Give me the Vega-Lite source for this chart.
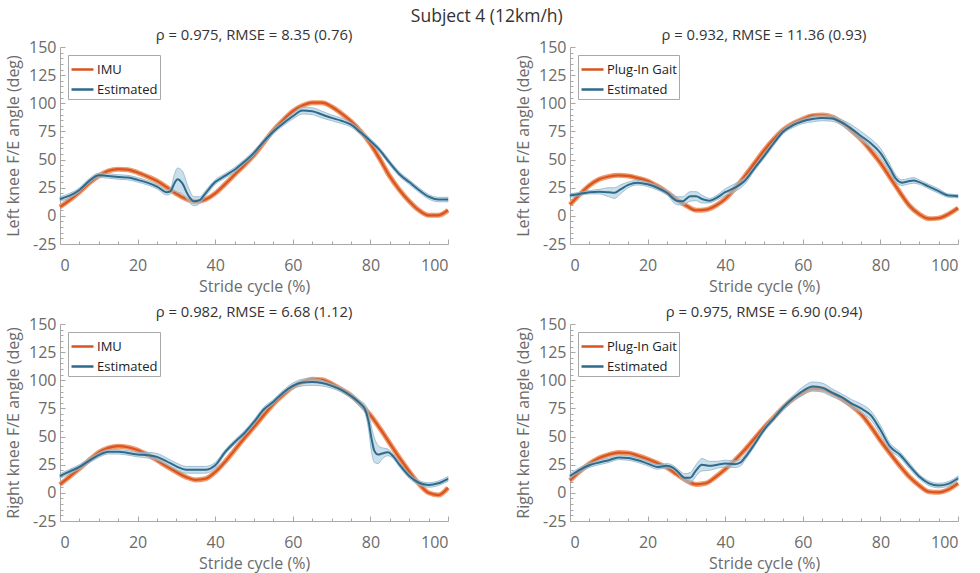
{
  "$schema": "https://vega.github.io/schema/vega-lite/v6.json",
  "padding": {"left": 5, "top": 7, "right": 5, "bottom": 2},
  "title": {"text": "Subject 4 (12km/h)", "fontSize": 17.5, "color": "#333333", "fontWeight": "normal", "anchor": "middle", "offset": 3},
  "datasets": {
    "ref": [
      {"p":"A","x":0,"v":8},{"p":"A","x":2.5,"v":14},{"p":"A","x":5,"v":21},{"p":"A","x":7.5,"v":29},{"p":"A","x":10,"v":35.5},{"p":"A","x":12.5,"v":40},{"p":"A","x":15,"v":41.5},{"p":"A","x":17.5,"v":41},{"p":"A","x":20,"v":38.5},{"p":"A","x":22.5,"v":35},{"p":"A","x":25,"v":31},{"p":"A","x":27.5,"v":25.5},{"p":"A","x":30,"v":19.5},{"p":"A","x":32.5,"v":15},{"p":"A","x":35,"v":12.5},{"p":"A","x":37.5,"v":14.5},{"p":"A","x":40,"v":20},{"p":"A","x":42.5,"v":28},{"p":"A","x":45,"v":36.5},{"p":"A","x":47.5,"v":45},{"p":"A","x":50,"v":54},{"p":"A","x":52.5,"v":65},{"p":"A","x":55,"v":76},{"p":"A","x":57.5,"v":85},{"p":"A","x":60,"v":93},{"p":"A","x":62.5,"v":98},{"p":"A","x":65,"v":100.5},{"p":"A","x":67.5,"v":100.5},{"p":"A","x":70,"v":97},{"p":"A","x":72.5,"v":91},{"p":"A","x":75,"v":84},{"p":"A","x":77.5,"v":75},{"p":"A","x":80,"v":64},{"p":"A","x":82.5,"v":50},{"p":"A","x":85,"v":35},{"p":"A","x":87.5,"v":23},{"p":"A","x":90,"v":13},{"p":"A","x":92.5,"v":5},{"p":"A","x":95,"v":0.5},{"p":"A","x":97.5,"v":0.5},{"p":"A","x":100,"v":5},
      {"p":"B","x":0,"v":10},{"p":"B","x":2.5,"v":19},{"p":"B","x":5,"v":27},{"p":"B","x":7.5,"v":32.5},{"p":"B","x":10,"v":35},{"p":"B","x":12.5,"v":36},{"p":"B","x":15,"v":35.5},{"p":"B","x":17.5,"v":33.5},{"p":"B","x":20,"v":31},{"p":"B","x":22.5,"v":26.5},{"p":"B","x":25,"v":21},{"p":"B","x":27.5,"v":14.5},{"p":"B","x":30,"v":9},{"p":"B","x":32.5,"v":5},{"p":"B","x":35,"v":5.5},{"p":"B","x":37.5,"v":9},{"p":"B","x":40,"v":15},{"p":"B","x":42.5,"v":24.5},{"p":"B","x":45,"v":35},{"p":"B","x":47.5,"v":46.5},{"p":"B","x":50,"v":58},{"p":"B","x":52.5,"v":68},{"p":"B","x":55,"v":76.5},{"p":"B","x":57.5,"v":82},{"p":"B","x":60,"v":86},{"p":"B","x":62.5,"v":89},{"p":"B","x":65,"v":89.5},{"p":"B","x":67.5,"v":88},{"p":"B","x":70,"v":83},{"p":"B","x":72.5,"v":76},{"p":"B","x":75,"v":68},{"p":"B","x":77.5,"v":58},{"p":"B","x":80,"v":47},{"p":"B","x":82.5,"v":34},{"p":"B","x":85,"v":21},{"p":"B","x":87.5,"v":9},{"p":"B","x":90,"v":1.5},{"p":"B","x":92.5,"v":-2.5},{"p":"B","x":95,"v":-2},{"p":"B","x":97.5,"v":1.5},{"p":"B","x":100,"v":7},
      {"p":"C","x":0,"v":7.5},{"p":"C","x":2.5,"v":14.5},{"p":"C","x":5,"v":21.5},{"p":"C","x":7.5,"v":29},{"p":"C","x":10,"v":36},{"p":"C","x":12.5,"v":40},{"p":"C","x":15,"v":41.5},{"p":"C","x":17.5,"v":40.5},{"p":"C","x":20,"v":38},{"p":"C","x":22.5,"v":34},{"p":"C","x":25,"v":29},{"p":"C","x":27.5,"v":23.5},{"p":"C","x":30,"v":18.5},{"p":"C","x":32.5,"v":14},{"p":"C","x":35,"v":11.5},{"p":"C","x":37.5,"v":12.5},{"p":"C","x":40,"v":18.5},{"p":"C","x":42.5,"v":27.5},{"p":"C","x":45,"v":38},{"p":"C","x":47.5,"v":48.5},{"p":"C","x":50,"v":58.5},{"p":"C","x":52.5,"v":69},{"p":"C","x":55,"v":79},{"p":"C","x":57.5,"v":87},{"p":"C","x":60,"v":94},{"p":"C","x":62.5,"v":98.5},{"p":"C","x":65,"v":101},{"p":"C","x":67.5,"v":100.5},{"p":"C","x":70,"v":97},{"p":"C","x":72.5,"v":92},{"p":"C","x":75,"v":86.5},{"p":"C","x":77.5,"v":78.5},{"p":"C","x":80,"v":69},{"p":"C","x":82.5,"v":57},{"p":"C","x":85,"v":44},{"p":"C","x":87.5,"v":31},{"p":"C","x":90,"v":19},{"p":"C","x":92.5,"v":8},{"p":"C","x":95,"v":0},{"p":"C","x":97.5,"v":-2},{"p":"C","x":100,"v":4.5},
      {"p":"D","x":0,"v":11},{"p":"D","x":2.5,"v":19},{"p":"D","x":5,"v":26},{"p":"D","x":7.5,"v":31},{"p":"D","x":10,"v":34},{"p":"D","x":12.5,"v":35.8},{"p":"D","x":15,"v":35.4},{"p":"D","x":17.5,"v":33},{"p":"D","x":20,"v":30},{"p":"D","x":22.5,"v":26.5},{"p":"D","x":25,"v":22.5},{"p":"D","x":27.5,"v":16.5},{"p":"D","x":30,"v":11},{"p":"D","x":32.5,"v":7.5},{"p":"D","x":35,"v":8.5},{"p":"D","x":37.5,"v":14},{"p":"D","x":40,"v":21},{"p":"D","x":42.5,"v":29},{"p":"D","x":45,"v":38},{"p":"D","x":47.5,"v":48},{"p":"D","x":50,"v":58},{"p":"D","x":52.5,"v":67},{"p":"D","x":55,"v":76},{"p":"D","x":57.5,"v":83.5},{"p":"D","x":60,"v":89},{"p":"D","x":62.5,"v":92.5},{"p":"D","x":65,"v":92},{"p":"D","x":67.5,"v":88.5},{"p":"D","x":70,"v":83.5},{"p":"D","x":72.5,"v":77.5},{"p":"D","x":75,"v":70},{"p":"D","x":77.5,"v":59},{"p":"D","x":80,"v":46.5},{"p":"D","x":82.5,"v":35},{"p":"D","x":85,"v":24},{"p":"D","x":87.5,"v":14},{"p":"D","x":90,"v":6.5},{"p":"D","x":92.5,"v":1},{"p":"D","x":95,"v":0.5},{"p":"D","x":97.5,"v":3},{"p":"D","x":100,"v":8.5}
    ],
    "est": [
      {"p":"A","x":0,"v":15,"lo":13,"hi":17},{"p":"A","x":2.5,"v":18,"lo":16,"hi":20},{"p":"A","x":5,"v":23,"lo":21,"hi":25},{"p":"A","x":7.5,"v":31,"lo":29,"hi":33},{"p":"A","x":10,"v":36,"lo":34,"hi":38},{"p":"A","x":12.5,"v":35.5,"lo":33.5,"hi":37.5},{"p":"A","x":15,"v":34.5,"lo":32.5,"hi":36.5},{"p":"A","x":17.5,"v":34,"lo":32,"hi":36},{"p":"A","x":20,"v":32,"lo":30,"hi":34},{"p":"A","x":22.5,"v":29.5,"lo":27.5,"hi":31.5},{"p":"A","x":25,"v":26,"lo":24,"hi":28},{"p":"A","x":27.5,"v":21,"lo":18.5,"hi":23},{"p":"A","x":28.5,"v":22,"lo":19.5,"hi":24.5},{"p":"A","x":29.5,"v":29,"lo":22,"hi":37},{"p":"A","x":30.3,"v":32.5,"lo":21,"hi":42.5},{"p":"A","x":31.5,"v":29,"lo":20,"hi":40},{"p":"A","x":33,"v":18.5,"lo":13,"hi":26},{"p":"A","x":34.5,"v":13,"lo":9,"hi":17},{"p":"A","x":36,"v":14,"lo":11,"hi":17},{"p":"A","x":37.5,"v":20,"lo":17.5,"hi":22.5},{"p":"A","x":40,"v":30,"lo":28,"hi":32},{"p":"A","x":42.5,"v":35.5,"lo":33.5,"hi":37.5},{"p":"A","x":45,"v":41,"lo":39,"hi":43},{"p":"A","x":47.5,"v":48,"lo":46,"hi":50},{"p":"A","x":50,"v":56,"lo":54,"hi":58},{"p":"A","x":52.5,"v":66,"lo":64,"hi":68},{"p":"A","x":55,"v":75,"lo":73,"hi":77},{"p":"A","x":57.5,"v":82,"lo":80,"hi":84},{"p":"A","x":60,"v":88.5,"lo":86,"hi":91},{"p":"A","x":62.5,"v":93.5,"lo":90.5,"hi":96.5},{"p":"A","x":65,"v":93,"lo":90,"hi":96},{"p":"A","x":67.5,"v":90,"lo":87,"hi":93},{"p":"A","x":70,"v":87,"lo":84.5,"hi":89.5},{"p":"A","x":72.5,"v":84.5,"lo":82,"hi":87},{"p":"A","x":75,"v":81,"lo":79,"hi":83},{"p":"A","x":77.5,"v":74,"lo":72,"hi":76},{"p":"A","x":80,"v":66.5,"lo":64.5,"hi":68.5},{"p":"A","x":82.5,"v":58,"lo":56,"hi":60},{"p":"A","x":85,"v":47,"lo":45,"hi":49},{"p":"A","x":87.5,"v":37,"lo":35,"hi":39},{"p":"A","x":90,"v":30,"lo":28,"hi":32},{"p":"A","x":92.5,"v":23,"lo":21,"hi":25},{"p":"A","x":95,"v":17,"lo":15,"hi":19},{"p":"A","x":97.5,"v":14.5,"lo":12.5,"hi":16.5},{"p":"A","x":100,"v":14.5,"lo":12.5,"hi":16.5},
      {"p":"B","x":0,"v":18,"lo":16.5,"hi":19.5},{"p":"B","x":2.5,"v":19.5,"lo":18,"hi":21},{"p":"B","x":5,"v":21,"lo":19.5,"hi":22.5},{"p":"B","x":7.5,"v":21.5,"lo":19.5,"hi":23.5},{"p":"B","x":10,"v":21,"lo":17,"hi":25},{"p":"B","x":11.5,"v":20.5,"lo":15.5,"hi":25},{"p":"B","x":13,"v":23.5,"lo":19.5,"hi":27.5},{"p":"B","x":15,"v":27.5,"lo":25,"hi":30},{"p":"B","x":17.5,"v":29.5,"lo":27.5,"hi":31.5},{"p":"B","x":20,"v":28,"lo":26,"hi":30},{"p":"B","x":22.5,"v":25,"lo":23,"hi":27},{"p":"B","x":25,"v":20.5,"lo":18.5,"hi":22.5},{"p":"B","x":27.5,"v":13.5,"lo":10,"hi":17},{"p":"B","x":29,"v":13,"lo":9.5,"hi":17},{"p":"B","x":31,"v":17.5,"lo":13,"hi":21.5},{"p":"B","x":32.5,"v":17.5,"lo":13.5,"hi":21.5},{"p":"B","x":34,"v":15,"lo":11.5,"hi":18.5},{"p":"B","x":36,"v":13.5,"lo":11.5,"hi":15.5},{"p":"B","x":37.5,"v":15.5,"lo":13.5,"hi":17.5},{"p":"B","x":40,"v":21,"lo":18,"hi":24},{"p":"B","x":42.5,"v":25,"lo":21.5,"hi":28.5},{"p":"B","x":45,"v":31,"lo":28,"hi":34},{"p":"B","x":47.5,"v":42,"lo":40,"hi":44},{"p":"B","x":50,"v":53,"lo":51,"hi":55},{"p":"B","x":52.5,"v":64.5,"lo":62.5,"hi":66.5},{"p":"B","x":55,"v":75,"lo":73,"hi":77},{"p":"B","x":57.5,"v":80.5,"lo":78.5,"hi":82.5},{"p":"B","x":60,"v":84,"lo":82,"hi":86},{"p":"B","x":62.5,"v":86,"lo":83.5,"hi":88.5},{"p":"B","x":65,"v":87,"lo":84.5,"hi":89.5},{"p":"B","x":67.5,"v":86.5,"lo":84,"hi":89},{"p":"B","x":70,"v":83,"lo":80.5,"hi":85.5},{"p":"B","x":72.5,"v":77.5,"lo":74,"hi":81},{"p":"B","x":75,"v":71,"lo":67,"hi":75},{"p":"B","x":77.5,"v":64.5,"lo":60.5,"hi":68.5},{"p":"B","x":80,"v":56,"lo":52,"hi":60},{"p":"B","x":82.5,"v":42,"lo":38.5,"hi":45.5},{"p":"B","x":84,"v":33,"lo":30,"hi":36},{"p":"B","x":85.5,"v":29.5,"lo":27,"hi":32},{"p":"B","x":87,"v":30.5,"lo":28,"hi":33},{"p":"B","x":88.5,"v":31.5,"lo":29,"hi":34},{"p":"B","x":90,"v":30,"lo":28,"hi":32},{"p":"B","x":92.5,"v":26,"lo":24,"hi":28},{"p":"B","x":95,"v":22,"lo":20,"hi":24},{"p":"B","x":97.5,"v":18,"lo":16.5,"hi":19.5},{"p":"B","x":100,"v":17.5,"lo":16,"hi":19},
      {"p":"C","x":0,"v":15,"lo":13,"hi":17},{"p":"C","x":2.5,"v":19,"lo":17,"hi":21},{"p":"C","x":5,"v":23,"lo":21,"hi":25},{"p":"C","x":7.5,"v":28.5,"lo":26.5,"hi":30.5},{"p":"C","x":10,"v":33.5,"lo":31.5,"hi":35.5},{"p":"C","x":12.5,"v":36.5,"lo":34.5,"hi":38.5},{"p":"C","x":15,"v":36.5,"lo":34.5,"hi":38.5},{"p":"C","x":17.5,"v":35.5,"lo":33.5,"hi":37.5},{"p":"C","x":20,"v":34,"lo":32,"hi":36},{"p":"C","x":22.5,"v":33.5,"lo":31,"hi":36},{"p":"C","x":25,"v":32,"lo":29,"hi":35},{"p":"C","x":27.5,"v":28,"lo":25,"hi":31},{"p":"C","x":30,"v":23.5,"lo":20.5,"hi":26.5},{"p":"C","x":32.5,"v":20.5,"lo":17.5,"hi":23.5},{"p":"C","x":35,"v":20.5,"lo":17.5,"hi":23.5},{"p":"C","x":37.5,"v":20.5,"lo":17.5,"hi":23.5},{"p":"C","x":40,"v":24.5,"lo":22,"hi":27},{"p":"C","x":42.5,"v":36,"lo":34,"hi":38},{"p":"C","x":45,"v":45,"lo":43,"hi":47},{"p":"C","x":47.5,"v":53,"lo":51,"hi":55},{"p":"C","x":50,"v":63,"lo":61,"hi":65},{"p":"C","x":52.5,"v":74,"lo":72,"hi":76},{"p":"C","x":55,"v":81,"lo":79,"hi":83},{"p":"C","x":57.5,"v":89,"lo":87,"hi":91},{"p":"C","x":60,"v":95,"lo":92.5,"hi":97.5},{"p":"C","x":62.5,"v":98,"lo":95,"hi":101},{"p":"C","x":65,"v":98.5,"lo":95.5,"hi":101.5},{"p":"C","x":67.5,"v":97.5,"lo":95,"hi":100},{"p":"C","x":70,"v":95,"lo":93,"hi":97},{"p":"C","x":72.5,"v":91.5,"lo":89.5,"hi":93.5},{"p":"C","x":75,"v":86,"lo":84,"hi":88},{"p":"C","x":77.5,"v":79,"lo":76.5,"hi":81.5},{"p":"C","x":78.5,"v":75,"lo":72,"hi":79},{"p":"C","x":79.5,"v":64,"lo":57,"hi":72},{"p":"C","x":80.3,"v":48,"lo":36,"hi":58},{"p":"C","x":81,"v":37.5,"lo":27,"hi":49},{"p":"C","x":82,"v":34,"lo":26,"hi":42},{"p":"C","x":83,"v":35,"lo":30,"hi":40},{"p":"C","x":84.5,"v":36,"lo":33,"hi":39},{"p":"C","x":86,"v":32,"lo":30,"hi":34},{"p":"C","x":87.5,"v":25,"lo":23,"hi":27},{"p":"C","x":90,"v":15,"lo":13,"hi":17},{"p":"C","x":92.5,"v":9,"lo":7,"hi":11},{"p":"C","x":95,"v":7,"lo":5,"hi":9},{"p":"C","x":97.5,"v":8.5,"lo":6.5,"hi":10.5},{"p":"C","x":100,"v":12.5,"lo":10.5,"hi":14.5},
      {"p":"D","x":0,"v":15,"lo":13,"hi":17},{"p":"D","x":2.5,"v":20.5,"lo":18.5,"hi":22.5},{"p":"D","x":5,"v":24.5,"lo":22.5,"hi":26.5},{"p":"D","x":7.5,"v":27,"lo":25,"hi":29},{"p":"D","x":10,"v":29,"lo":27,"hi":31},{"p":"D","x":12.5,"v":31.5,"lo":29.5,"hi":33.5},{"p":"D","x":15,"v":31,"lo":29,"hi":33},{"p":"D","x":17.5,"v":29,"lo":27,"hi":31},{"p":"D","x":20,"v":26,"lo":24,"hi":28},{"p":"D","x":22.5,"v":23,"lo":21,"hi":25},{"p":"D","x":25,"v":24,"lo":22,"hi":26},{"p":"D","x":26.5,"v":22.5,"lo":20.5,"hi":24.5},{"p":"D","x":28,"v":18,"lo":15.5,"hi":20.5},{"p":"D","x":29.5,"v":13.5,"lo":10,"hi":17},{"p":"D","x":31,"v":13.5,"lo":9,"hi":18},{"p":"D","x":32.5,"v":20,"lo":15,"hi":25},{"p":"D","x":34,"v":25,"lo":19.5,"hi":30.5},{"p":"D","x":36,"v":24,"lo":20,"hi":28},{"p":"D","x":38,"v":25,"lo":22,"hi":28},{"p":"D","x":40,"v":26,"lo":23,"hi":29},{"p":"D","x":42.5,"v":25.5,"lo":22.5,"hi":28.5},{"p":"D","x":44,"v":27,"lo":24,"hi":30},{"p":"D","x":45,"v":31,"lo":28.5,"hi":33.5},{"p":"D","x":47.5,"v":43,"lo":41,"hi":45},{"p":"D","x":50,"v":56,"lo":54,"hi":58},{"p":"D","x":52.5,"v":66,"lo":64,"hi":68},{"p":"D","x":55,"v":76,"lo":74,"hi":78},{"p":"D","x":57.5,"v":84,"lo":81.5,"hi":86.5},{"p":"D","x":60,"v":90.5,"lo":87,"hi":94},{"p":"D","x":62.5,"v":94.5,"lo":90.5,"hi":98.5},{"p":"D","x":65,"v":93.5,"lo":89.5,"hi":97.5},{"p":"D","x":67.5,"v":89,"lo":85.5,"hi":92.5},{"p":"D","x":70,"v":85,"lo":82,"hi":88},{"p":"D","x":72.5,"v":79.5,"lo":76,"hi":83},{"p":"D","x":75,"v":75,"lo":71,"hi":79},{"p":"D","x":77.5,"v":69,"lo":65,"hi":73},{"p":"D","x":80,"v":56,"lo":52,"hi":60},{"p":"D","x":82.5,"v":41,"lo":38,"hi":44},{"p":"D","x":85,"v":34,"lo":31.5,"hi":36.5},{"p":"D","x":87.5,"v":24,"lo":21.5,"hi":26.5},{"p":"D","x":90,"v":14.5,"lo":12.5,"hi":16.5},{"p":"D","x":92.5,"v":8.5,"lo":6.5,"hi":10.5},{"p":"D","x":95,"v":6.5,"lo":4.5,"hi":8.5},{"p":"D","x":97.5,"v":8,"lo":6,"hi":10},{"p":"D","x":100,"v":13,"lo":11,"hi":15}
    ]
  },
  "vconcat": [
    {
      "hconcat": [
        {
          "width": 388, "height": 197,
          "title": "ρ = 0.975, RMSE = 8.35 (0.76)",
          "encoding": {
            "x": {"field": "x", "type": "quantitative", "scale": {"domain": [0, 100], "nice": false},
                  "axis": {"title": "Stride cycle (%)", "values": [0,5,10,15,20,25,30,35,40,45,50,55,60,65,70,75,80,85,90,95,100], "labelExpr": "datum.value % 20 === 0 ? '' + datum.value : ''", "tickSize": {"condition": {"test": "datum.value % 20 === 0", "value": -5}, "value": -3}}},
            "y": {"field": "v", "type": "quantitative", "scale": {"domain": [-25, 150], "nice": false},
                  "axis": {"title": "Left knee F/E angle (deg)", "values": [-25,-20,-15,-10,-5,0,5,10,15,20,25,30,35,40,45,50,55,60,65,70,75,80,85,90,95,100,105,110,115,120,125,130,135,140,145,150], "labelExpr": "datum.value % 25 === 0 ? '' + datum.value : ''", "tickSize": {"condition": {"test": "datum.value % 25 === 0", "value": -5}, "value": -3}}}
          },
          "layer": [
            {"data": {"name": "ref"}, "transform": [{"filter": "datum.p === 'A'"}], "mark": {"type": "line", "color": "#ee9a6c", "strokeWidth": 5, "interpolate": "monotone"}},
            {"data": {"name": "ref"}, "transform": [{"filter": "datum.p === 'A'"}], "mark": {"type": "line", "strokeWidth": 2.2, "interpolate": "monotone"},
             "encoding": {"color": {"datum": "IMU", "scale": {"domain": ["IMU", "Estimated"], "range": ["#d9541e", "#2e6a8b"]}, "legend": {"title": null, "orient": "top-left", "offset": 8}}}},
            {"data": {"name": "est"}, "transform": [{"filter": "datum.p === 'A'"}], "mark": {"type": "area", "fill": "#a9c9dc", "fillOpacity": 0.6, "stroke": "#8db4cc", "strokeWidth": 0.8, "interpolate": "monotone"},
             "encoding": {"y": {"field": "lo", "type": "quantitative"}, "y2": {"field": "hi"}}},
            {"data": {"name": "est"}, "transform": [{"filter": "datum.p === 'A'"}], "mark": {"type": "line", "strokeWidth": 2, "interpolate": "monotone"},
             "encoding": {"color": {"datum": "Estimated"}}}
          ]
        },
        {
          "width": 388, "height": 197,
          "title": "ρ = 0.932, RMSE = 11.36 (0.93)",
          "encoding": {
            "x": {"field": "x", "type": "quantitative", "scale": {"domain": [0, 100], "nice": false},
                  "axis": {"title": "Stride cycle (%)", "values": [0,5,10,15,20,25,30,35,40,45,50,55,60,65,70,75,80,85,90,95,100], "labelExpr": "datum.value % 20 === 0 ? '' + datum.value : ''", "tickSize": {"condition": {"test": "datum.value % 20 === 0", "value": -5}, "value": -3}}},
            "y": {"field": "v", "type": "quantitative", "scale": {"domain": [-25, 150], "nice": false},
                  "axis": {"title": "Left knee F/E angle (deg)", "values": [-25,-20,-15,-10,-5,0,5,10,15,20,25,30,35,40,45,50,55,60,65,70,75,80,85,90,95,100,105,110,115,120,125,130,135,140,145,150], "labelExpr": "datum.value % 25 === 0 ? '' + datum.value : ''", "tickSize": {"condition": {"test": "datum.value % 25 === 0", "value": -5}, "value": -3}}}
          },
          "layer": [
            {"data": {"name": "ref"}, "transform": [{"filter": "datum.p === 'B'"}], "mark": {"type": "line", "color": "#ee9a6c", "strokeWidth": 5, "interpolate": "monotone"}},
            {"data": {"name": "ref"}, "transform": [{"filter": "datum.p === 'B'"}], "mark": {"type": "line", "strokeWidth": 2.2, "interpolate": "monotone"},
             "encoding": {"color": {"datum": "Plug-In Gait", "scale": {"domain": ["Plug-In Gait", "Estimated"], "range": ["#d9541e", "#2e6a8b"]}, "legend": {"title": null, "orient": "top-left", "offset": 8}}}},
            {"data": {"name": "est"}, "transform": [{"filter": "datum.p === 'B'"}], "mark": {"type": "area", "fill": "#a9c9dc", "fillOpacity": 0.6, "stroke": "#8db4cc", "strokeWidth": 0.8, "interpolate": "monotone"},
             "encoding": {"y": {"field": "lo", "type": "quantitative"}, "y2": {"field": "hi"}}},
            {"data": {"name": "est"}, "transform": [{"filter": "datum.p === 'B'"}], "mark": {"type": "line", "strokeWidth": 2, "interpolate": "monotone"},
             "encoding": {"color": {"datum": "Estimated"}}}
          ]
        }
      ],
      "spacing": 57,
      "resolve": {"scale": {"color": "independent"}, "legend": {"color": "independent"}}
    },
    {
      "hconcat": [
        {
          "width": 388, "height": 197,
          "title": "ρ = 0.982, RMSE = 6.68 (1.12)",
          "encoding": {
            "x": {"field": "x", "type": "quantitative", "scale": {"domain": [0, 100], "nice": false},
                  "axis": {"title": "Stride cycle (%)", "values": [0,5,10,15,20,25,30,35,40,45,50,55,60,65,70,75,80,85,90,95,100], "labelExpr": "datum.value % 20 === 0 ? '' + datum.value : ''", "tickSize": {"condition": {"test": "datum.value % 20 === 0", "value": -5}, "value": -3}}},
            "y": {"field": "v", "type": "quantitative", "scale": {"domain": [-25, 150], "nice": false},
                  "axis": {"title": "Right knee F/E angle (deg)", "values": [-25,-20,-15,-10,-5,0,5,10,15,20,25,30,35,40,45,50,55,60,65,70,75,80,85,90,95,100,105,110,115,120,125,130,135,140,145,150], "labelExpr": "datum.value % 25 === 0 ? '' + datum.value : ''", "tickSize": {"condition": {"test": "datum.value % 25 === 0", "value": -5}, "value": -3}}}
          },
          "layer": [
            {"data": {"name": "ref"}, "transform": [{"filter": "datum.p === 'C'"}], "mark": {"type": "line", "color": "#ee9a6c", "strokeWidth": 5, "interpolate": "monotone"}},
            {"data": {"name": "ref"}, "transform": [{"filter": "datum.p === 'C'"}], "mark": {"type": "line", "strokeWidth": 2.2, "interpolate": "monotone"},
             "encoding": {"color": {"datum": "IMU", "scale": {"domain": ["IMU", "Estimated"], "range": ["#d9541e", "#2e6a8b"]}, "legend": {"title": null, "orient": "top-left", "offset": 8}}}},
            {"data": {"name": "est"}, "transform": [{"filter": "datum.p === 'C'"}], "mark": {"type": "area", "fill": "#a9c9dc", "fillOpacity": 0.6, "stroke": "#8db4cc", "strokeWidth": 0.8, "interpolate": "monotone"},
             "encoding": {"y": {"field": "lo", "type": "quantitative"}, "y2": {"field": "hi"}}},
            {"data": {"name": "est"}, "transform": [{"filter": "datum.p === 'C'"}], "mark": {"type": "line", "strokeWidth": 2, "interpolate": "monotone"},
             "encoding": {"color": {"datum": "Estimated"}}}
          ]
        },
        {
          "width": 388, "height": 197,
          "title": "ρ = 0.975, RMSE = 6.90 (0.94)",
          "encoding": {
            "x": {"field": "x", "type": "quantitative", "scale": {"domain": [0, 100], "nice": false},
                  "axis": {"title": "Stride cycle (%)", "values": [0,5,10,15,20,25,30,35,40,45,50,55,60,65,70,75,80,85,90,95,100], "labelExpr": "datum.value % 20 === 0 ? '' + datum.value : ''", "tickSize": {"condition": {"test": "datum.value % 20 === 0", "value": -5}, "value": -3}}},
            "y": {"field": "v", "type": "quantitative", "scale": {"domain": [-25, 150], "nice": false},
                  "axis": {"title": "Right knee F/E angle (deg)", "values": [-25,-20,-15,-10,-5,0,5,10,15,20,25,30,35,40,45,50,55,60,65,70,75,80,85,90,95,100,105,110,115,120,125,130,135,140,145,150], "labelExpr": "datum.value % 25 === 0 ? '' + datum.value : ''", "tickSize": {"condition": {"test": "datum.value % 25 === 0", "value": -5}, "value": -3}}}
          },
          "layer": [
            {"data": {"name": "ref"}, "transform": [{"filter": "datum.p === 'D'"}], "mark": {"type": "line", "color": "#ee9a6c", "strokeWidth": 5, "interpolate": "monotone"}},
            {"data": {"name": "ref"}, "transform": [{"filter": "datum.p === 'D'"}], "mark": {"type": "line", "strokeWidth": 2.2, "interpolate": "monotone"},
             "encoding": {"color": {"datum": "Plug-In Gait", "scale": {"domain": ["Plug-In Gait", "Estimated"], "range": ["#d9541e", "#2e6a8b"]}, "legend": {"title": null, "orient": "top-left", "offset": 8}}}},
            {"data": {"name": "est"}, "transform": [{"filter": "datum.p === 'D'"}], "mark": {"type": "area", "fill": "#a9c9dc", "fillOpacity": 0.6, "stroke": "#8db4cc", "strokeWidth": 0.8, "interpolate": "monotone"},
             "encoding": {"y": {"field": "lo", "type": "quantitative"}, "y2": {"field": "hi"}}},
            {"data": {"name": "est"}, "transform": [{"filter": "datum.p === 'D'"}], "mark": {"type": "line", "strokeWidth": 2, "interpolate": "monotone"},
             "encoding": {"color": {"datum": "Estimated"}}}
          ]
        }
      ],
      "spacing": 57,
      "resolve": {"scale": {"color": "independent"}, "legend": {"color": "independent"}}
    }
  ],
  "spacing": 11,
  "resolve": {"scale": {"color": "independent"}, "legend": {"color": "independent"}},
  "config": {
    "font": "Open Sans",
    "view": {"stroke": null},
    "axis": {
      "grid": false,
      "domainColor": "#a8a8a8",
      "tickColor": "#a8a8a8",
      "labelColor": "#6b6b6b",
      "titleColor": "#6b6b6b",
      "labelFontSize": 16,
      "titleFontSize": 16,
      "titleFontWeight": "normal",
      "labelOverlap": false
    },
    "axisY": {"titlePadding": 7, "labelPadding": 9},
    "axisX": {"titlePadding": 3, "labelPadding": 18},
    "title": {"fontSize": 14.8, "fontWeight": "normal", "color": "#333333", "offset": -4},
    "legend": {
      "symbolType": "stroke",
      "symbolSize": 484,
      "symbolStrokeWidth": 2.5,
      "labelFontSize": 13,
      "labelColor": "#222222",
      "labelOffset": 2,
      "strokeColor": "#a8a8a8",
      "fillColor": "#ffffff",
      "padding": 2,
      "rowPadding": -3,
      "cornerRadius": 0
    }
  }
}
